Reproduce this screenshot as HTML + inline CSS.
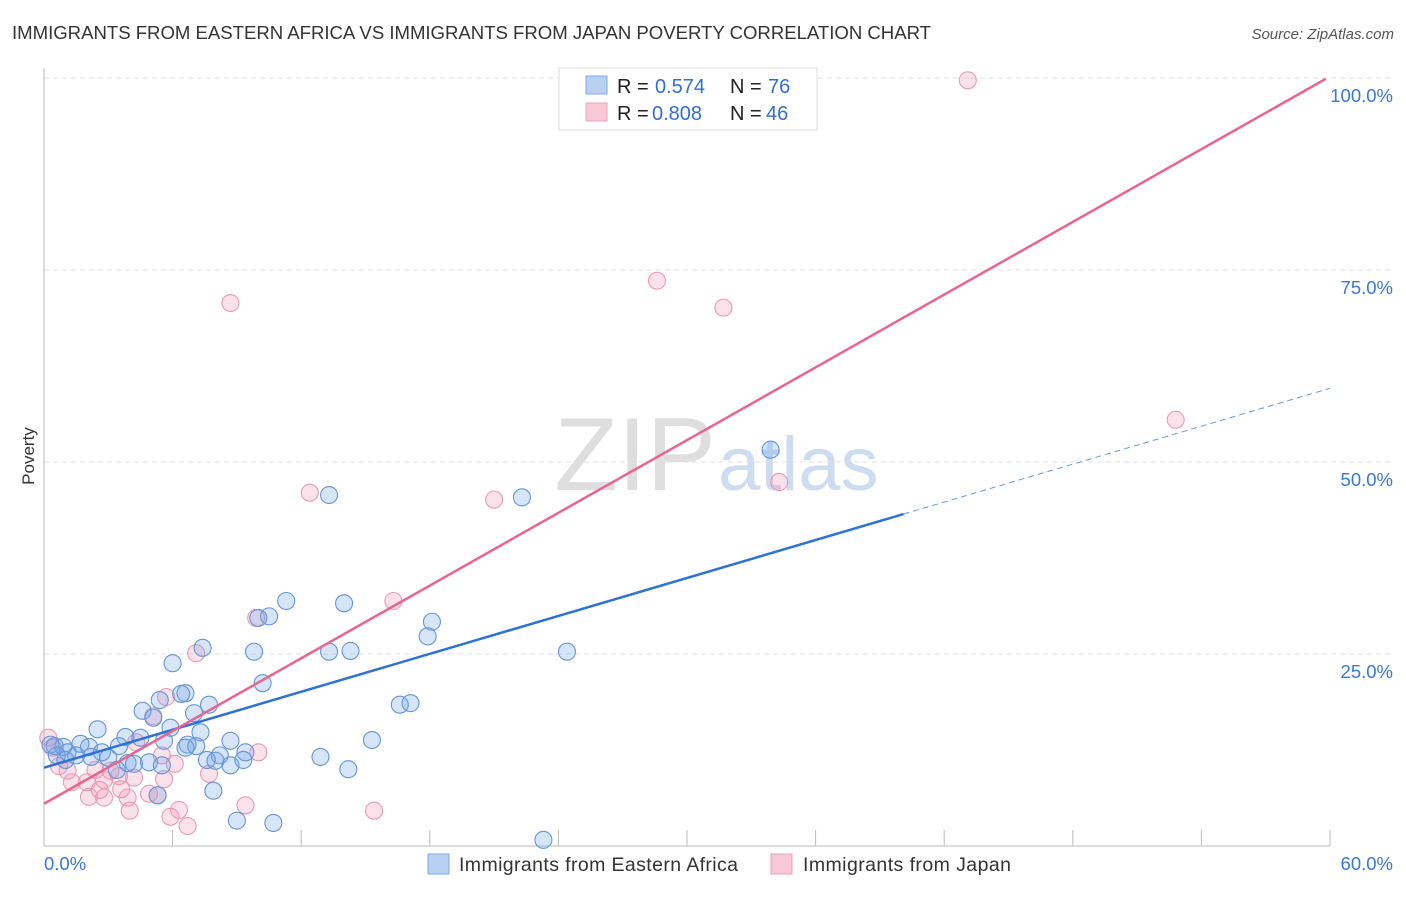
<!DOCTYPE html>
<html><head><meta charset="utf-8"><style>
body{margin:0;background:#fff;font-family:"Liberation Sans",sans-serif}
svg text{font-family:"Liberation Sans",sans-serif}
</style></head><body>
<svg id="c" width="1406" height="892">
<text x="12" y="39" font-size="18.6" fill="#333" textLength="919">IMMIGRANTS FROM EASTERN AFRICA VS IMMIGRANTS FROM JAPAN POVERTY CORRELATION CHART</text>
<text x="1394" y="39" font-size="15" fill="#555" font-style="italic" text-anchor="end">Source: ZipAtlas.com</text>
<text x="34" y="456" font-size="17" fill="#333" transform="rotate(-90 34 456)" text-anchor="middle">Poverty</text>
<text x="716" y="490" font-size="104" fill="#dedede" text-anchor="end" font-family="Liberation Serif">ZIP</text>
<text x="718" y="490" font-size="76" fill="#cddcf0">atlas</text>
<g id="grid"></g><g id="marks"></g>
<g>
<rect x="559" y="68" width="258" height="62" fill="#fff" stroke="#ddd"/>
<rect x="586" y="76" width="21" height="18" fill="#b8d0f2" stroke="#7fa8e0"/>
<rect x="586" y="103" width="21" height="18" fill="#f8c8d6" stroke="#eea0b8"/>
<text x="617" y="93" font-size="20" fill="#222">R = </text><text x="655" y="93" font-size="20" fill="#2f6fd6">0.574</text>
<text x="730" y="93" font-size="20" fill="#222">N = </text><text x="768" y="93" font-size="20" fill="#2f6fd6">76</text>
<text x="617" y="120" font-size="20" fill="#222">R = </text><text x="652" y="120" font-size="20" fill="#2f6fd6">0.808</text>
<text x="730" y="120" font-size="20" fill="#222">N = </text><text x="766" y="120" font-size="20" fill="#2f6fd6">46</text>
</g>
<g>
<rect x="428" y="854" width="21" height="20" fill="#b8d0f2" stroke="#7fa8e0"/>
<text x="459" y="871" font-size="19.5" fill="#333" textLength="279">Immigrants from Eastern Africa</text>
<rect x="771" y="854" width="21" height="20" fill="#f8c8d6" stroke="#eea0b8"/>
<text x="803" y="871" font-size="19.5" fill="#333" textLength="208">Immigrants from Japan</text>
</g>
</svg>
<script>
const yTicks=[25,50,75,100];
const yTickLabels=["25.0%","50.0%","75.0%","100.0%"];
const xTickLabels=["0.0%","60.0%"];
const blueX=[33.9,22.3,13.3,11.3,14.0,18.1,17.9,10.5,10.0,7.4,9.8,13.3,14.3,24.4,6.0,10.2,6.6,6.4,5.4,7.7,16.6,17.1,4.6,5.1,7.0,2.5,5.9,7.3,3.8,5.6,8.7,15.3,6.7,7.1,3.5,2.1,1.7,0.9,0.5,0.3,1.1,1.5,2.7,3.0,9.4,8.2,12.9,2.2,3.9,4.2,4.9,5.5,7.6,8.0,8.7,9.3,3.4,14.2,7.9,5.3,9.0,10.7,23.3,0.6,1.0,4.5,6.6];
const blueY=[51.6,45.4,45.7,31.9,31.6,29.2,27.3,29.9,29.7,25.8,25.3,25.3,25.4,25.3,23.8,21.2,19.9,19.8,19.0,18.4,18.4,18.6,17.6,16.7,17.3,15.2,15.4,14.8,14.2,13.7,13.7,13.8,13.2,13.0,13.0,12.9,13.3,12.9,13.0,13.2,12.2,11.8,12.2,11.5,12.2,11.8,11.6,11.6,10.8,10.7,10.9,10.5,11.2,11.1,10.5,11.2,9.9,10.0,7.2,6.6,3.3,3.0,0.8,11.8,11.2,14.1,12.8];
const pinkX=[43.1,28.6,31.7,8.7,52.8,12.4,21.0,34.3,16.3,9.9,7.1,5.7,5.1,4.3,0.2,0.4,10.0,5.5,6.1,0.7,1.1,2.4,3.1,1.3,2.0,2.8,3.5,7.7,4.2,5.6,2.6,3.6,4.9,5.3,2.1,2.8,3.9,6.3,9.4,15.4,5.9,4.0,6.7];
const pinkY=[99.7,73.6,70.1,70.7,55.5,46.0,45.1,47.4,31.9,29.7,25.1,19.4,16.9,13.5,14.1,12.8,12.2,11.8,10.7,10.4,9.8,9.9,9.8,8.3,8.3,8.6,9.1,9.4,8.9,8.7,7.3,7.4,6.8,6.6,6.4,6.3,6.3,4.7,5.3,4.6,3.8,4.6,2.6];
const blueTrend=[10.2,59.6]; const blueSolidEnd=40.1;
const pinkTrend=[5.5,100.2];
const X=v=>44+v/60*1286, Y=v=>846-v*7.68;
const NS="http://www.w3.org/2000/svg";
function mk(t,a,p){const e=document.createElementNS(NS,t);for(const k in a)e.setAttribute(k,a[k]);p.appendChild(e);return e;}
const g=document.getElementById('grid'), m=document.getElementById('marks');
yTicks.forEach((t,i)=>{
 const l=mk('line',{x1:44,x2:1394,y1:Y(t),y2:Y(t),stroke:'#e2e2e2','stroke-dasharray':'5,4'},g);
 
 
 const tx=mk('text',{x:1393,y:Y(t)+24,'font-size':18.5,fill:'#3a78d8','text-anchor':'end'},g);tx.textContent=yTickLabels[i];
 
 
});
mk('line',{x1:44,x2:44,y1:68,y2:846,stroke:'#bbb'},g);
mk('line',{x1:44,x2:1330,y1:846,y2:846,stroke:'#bbb'},g);
for(let i=1;i<=10;i++){const t=mk('line',{x1:X(i*6),x2:X(i*6),y1:830,y2:846,stroke:'#bbb'},g);
 
 }
[[0,44,'start'],[60,1393,'end']].forEach((d,i)=>{const t=mk('text',{x:d[1],y:870,'font-size':18.5,fill:'#3a78d8','text-anchor':d[2]},g);t.textContent=xTickLabels[i];
 
 });
function pts(xs,ys,fill,st,name){xs.forEach((x,i)=>{const c=mk('circle',{cx:X(x),cy:Y(ys[i]),r:8.5,fill:fill,stroke:st,'stroke-width':1.1},m);
 
 });}
pts(pinkX,pinkY,'rgba(242,150,180,0.28)','#ea9ab3','point-japan');
pts(blueX,blueY,'rgba(110,160,230,0.28)','#6495da','point-eastern-africa');
const ly=(tr,x)=>tr[0]+(tr[1]-tr[0])*x/60;
let l=mk('line',{x1:X(0),y1:Y(ly(blueTrend,0)),x2:X(blueSolidEnd),y2:Y(ly(blueTrend,blueSolidEnd)),stroke:'#2e72d6','stroke-width':2.5},m);


l=mk('line',{x1:X(blueSolidEnd),y1:Y(ly(blueTrend,blueSolidEnd)),x2:X(60),y2:Y(ly(blueTrend,60)),stroke:'#6a9ae0','stroke-width':1,'stroke-dasharray':'6,4'},m);


l=mk('line',{x1:X(0),y1:Y(ly(pinkTrend,0)),x2:X(59.8),y2:Y(ly(pinkTrend,59.8)),stroke:'#e8658f','stroke-width':2.5},m);


</script>
</body></html>
